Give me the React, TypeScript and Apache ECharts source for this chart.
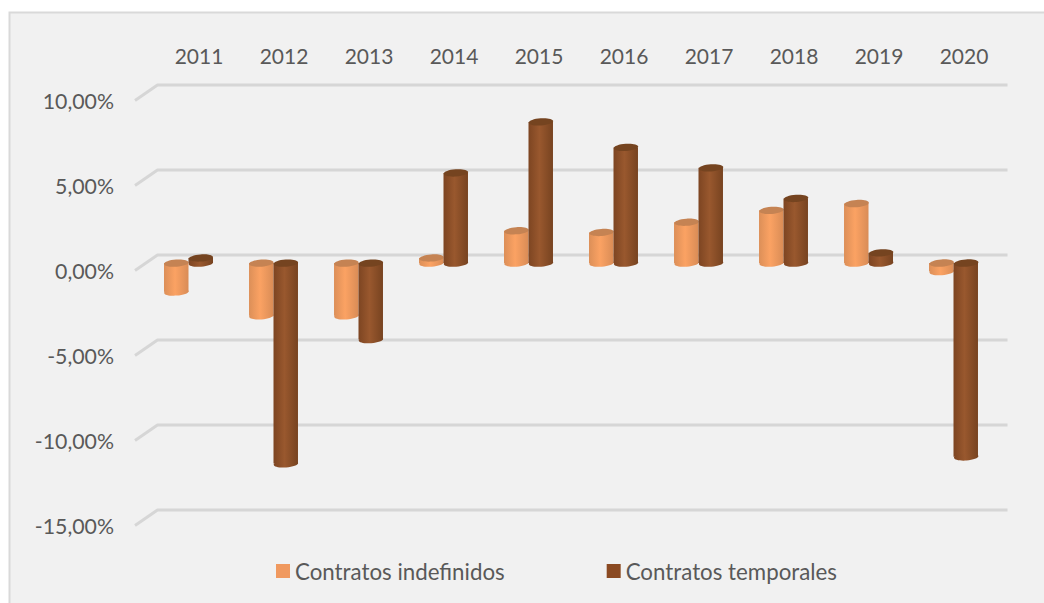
import React, { useEffect, useRef } from "react";
import * as echarts from "echarts";

const years = ["2011", "2012", "2013", "2014", "2015", "2016", "2017", "2018", "2019", "2020"];
const indefinidos = [-1.7, -3.1, -3.1, 0.3, 1.9, 1.8, 2.4, 3.1, 3.5, -0.5];
const temporales = [0.3, -11.8, -4.5, 5.3, 8.3, 6.8, 5.6, 3.8, 0.6, -11.4];
const yTicks = [10, 5, 0, -5, -10, -15];

const grad = (stops: [number, string][]) =>
  new echarts.graphic.LinearGradient(0, 0, 1, 0, stops.map(([offset, color]) => ({ offset, color })));

const cylinder = (side: number, body: [string, string, string], top: string) => (params: any, api: any) => {
  const cat = api.value(0);
  const [cx, y0] = api.coord([cat, 0]);
  const [, yv] = api.coord([cat, api.value(1)]);
  const band = api.size([1, 0])[0];
  const w = band * 0.288;
  const x = cx + side * (w / 2) - w / 2;
  const yTop = Math.min(y0, yv);
  const yBot = Math.max(y0, yv);
  const ry = 3.6;
  const fill = grad([
    [0, body[0]],
    [0.45, body[1]],
    [1, body[2]],
  ]);
  const rot = 0.07;
  return {
    type: "group",
    children: [
      { type: "rect", shape: { x, y: yTop, width: w, height: yBot - yTop }, style: { fill } },
      {
        type: "ellipse",
        shape: { cx: x + w / 2, cy: yBot, rx: w / 2, ry },
        rotation: rot,
        originX: x + w / 2,
        originY: yBot,
        style: { fill },
      },
      {
        type: "ellipse",
        shape: { cx: x + w / 2, cy: yTop, rx: w / 2, ry },
        rotation: rot,
        originX: x + w / 2,
        originY: yTop,
        style: { fill: top },
      },
    ],
  };
};

const gridLine = (params: any, api: any) => {
  const y = api.coord([0, api.value(1)])[1];
  const cs = params.coordSys;
  const style = { stroke: "#d6d6d6", lineWidth: 3, fill: "none", lineJoin: "round" };
  return {
    type: "polyline",
    shape: {
      points: [
        [cs.x - 11, y + 7.5],
        [cs.x + 11.5, y - 8],
        [cs.x + cs.width + 11.5, y - 8],
      ],
    },
    style,
  };
};

const FONT = "Lato";

export default function App() {
  const ref = useRef<HTMLDivElement>(null);
  useEffect(() => {
    const chart = echarts.init(ref.current!, undefined, { renderer: "svg" });
    chart.setOption({
      animation: false,
      backgroundColor: "#ffffff",
      graphic: [
        {
          type: "rect",
          z: -10,
          silent: true,
          shape: { x: 9.5, y: 12.5, width: 1040, height: 600 },
          style: { fill: "#f1f1f1", stroke: "#d9d9d9", lineWidth: 2 },
        },
      ],
      grid: { left: 146, width: 850, top: 93, height: 425 },
      xAxis: {
        type: "category",
        position: "top",
        data: years,
        axisLine: { show: false },
        axisTick: { show: false },
        splitLine: { show: false },
        axisLabel: {
          margin: 27,
          color: "#595959",
          fontFamily: FONT,
          fontSize: 21,
          padding: [0, 0, 0, 21],
          interval: 0,
        },
      },
      yAxis: {
        type: "value",
        min: -15,
        max: 10,
        interval: 5,
        axisLine: { show: false },
        axisTick: { show: false },
        splitLine: { show: false },
        axisLabel: {
          margin: 32,
          color: "#595959",
          fontFamily: FONT,
          fontSize: 21.3,
          verticalAlign: "top",
          lineHeight: 15,
          formatter: (v: number) => v.toFixed(2).replace(".", ",") + "%",
        },
      },
      legend: {
        left: 276,
        top: 560,
        padding: 0,
        itemWidth: 14,
        itemHeight: 14,
        itemGap: 102,
        icon: "rect",
        itemStyle: { borderWidth: 0 },
        data: ["Contratos indefinidos", "Contratos temporales"],
        textStyle: { color: "#595959", fontFamily: FONT, fontSize: 22.3 },
      },
      series: [
        {
          name: "grid",
          type: "custom",
          z: 1,
          silent: true,
          renderItem: gridLine,
          encode: { x: 0, y: 1 },
          data: yTicks.map((t) => [0, t]),
        },
        {
          name: "Contratos indefinidos",
          type: "custom",
          z: 2,
          itemStyle: { color: "#f0995f" },
          renderItem: cylinder(-1, ["#dc8f58", "#fba263", "#d98c56"], "#c58353"),
          encode: { x: 0, y: 1 },
          data: indefinidos.map((v, i) => [i, v]),
        },
        {
          name: "Contratos temporales",
          type: "custom",
          z: 3,
          itemStyle: { color: "#8b4a22" },
          renderItem: cylinder(1, ["#7d4522", "#99582e", "#774320"], "#754420"),
          encode: { x: 0, y: 1 },
          data: temporales.map((v, i) => [i, v]),
        },
      ],
    });
    return () => chart.dispose();
  }, []);
  return <div ref={ref} style={{ position: "fixed", left: 0, top: 0, width: 1044, height: 603 }} />;
}
